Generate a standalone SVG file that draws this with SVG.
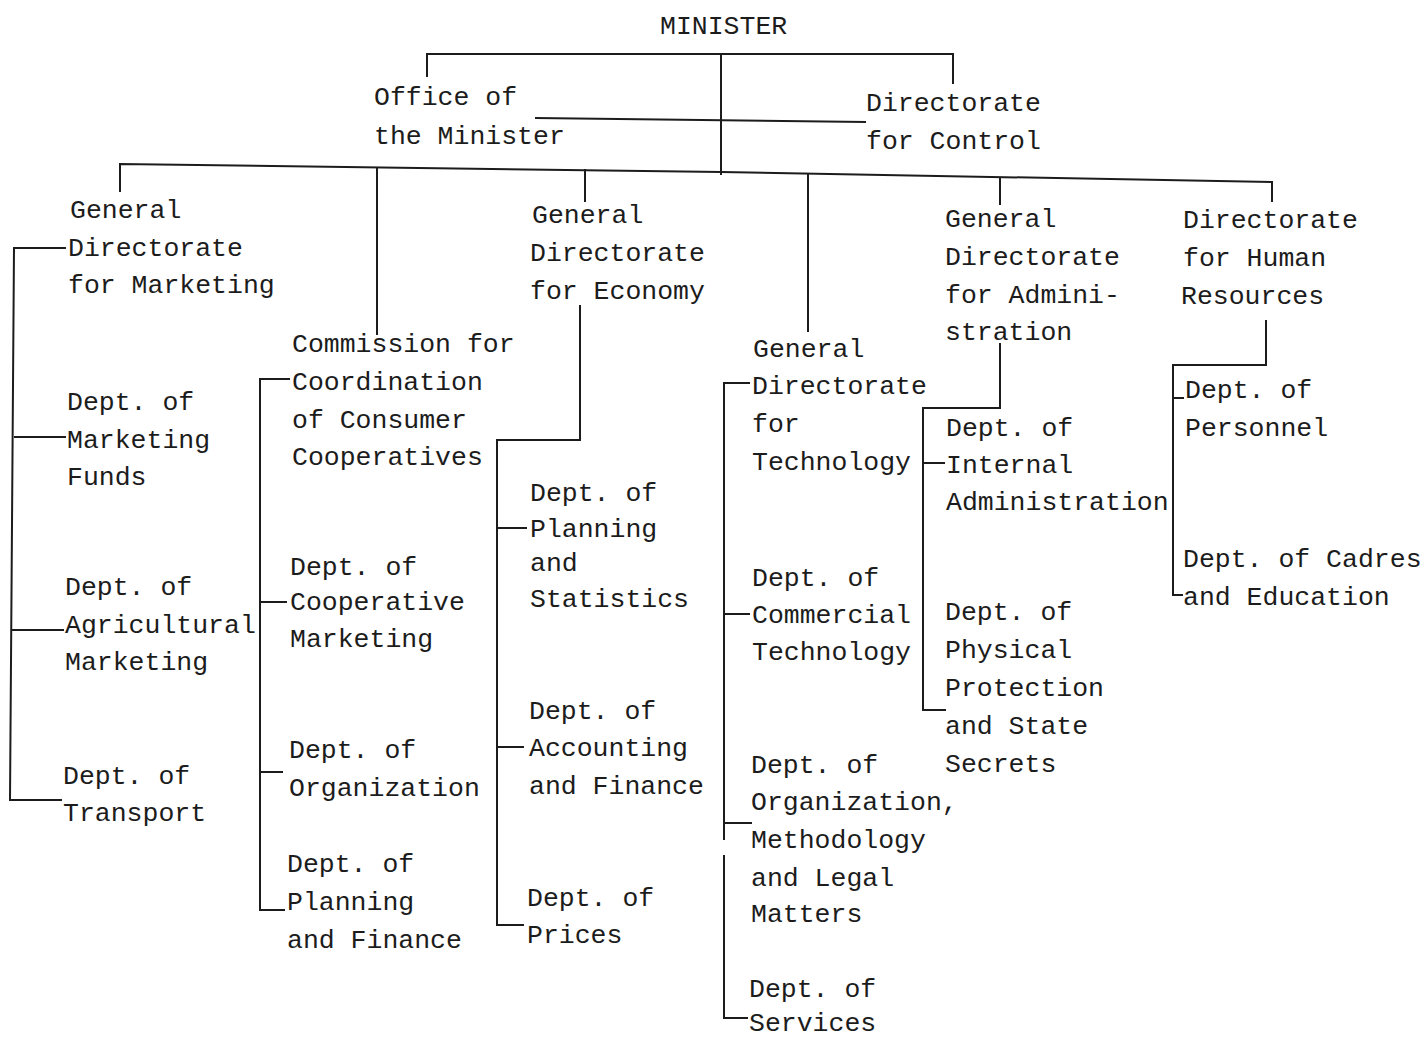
<svg xmlns="http://www.w3.org/2000/svg" width="1425" height="1037" viewBox="0 0 1425 1037">
  <style>
    text { font-family: "Liberation Mono", "DejaVu Sans Mono", monospace; font-size: 26.5px; fill: #1c1c1c; }
    .ln { fill: none; stroke: #1c1c1c; stroke-width: 2; stroke-linejoin: miter; }
  </style>
  <rect width="1425" height="1037" fill="#ffffff"/>

  <!-- connectors -->
  <g id="connectors" class="ln">
    <!-- minister level -->
    <path d="M427,77 V54 H953 V84"/>
    <path d="M721,54 V175"/>
    <path d="M535,118 L866,122"/>
    <!-- main bar to the directorates -->
    <path d="M120,192 V164 L721,172 L1272,182 V202"/>
    <path d="M377,167 V335"/>
    <path d="M585,169 V202"/>
    <path d="M808,174 V332"/>
    <path d="M1000,178 V205"/>
    <!-- marketing branch -->
    <path d="M66,248 H14 L10,800 H62"/>
    <path d="M14,437 H66"/>
    <path d="M12,630 H64"/>
    <!-- consumer cooperatives branch -->
    <path d="M290,379 H260 V910 H285"/>
    <path d="M260,602 H287"/>
    <path d="M260,772 H283"/>
    <!-- economy branch -->
    <path d="M580,305 V440 H497 V925 H524"/>
    <path d="M497,528 H527"/>
    <path d="M497,747 H524"/>
    <!-- technology branch -->
    <path d="M750,383 H724 V840"/>
    <path d="M724,855 V1018 H748"/>
    <path d="M724,614 H750"/>
    <path d="M724,823 H752"/>
    <!-- administration branch -->
    <path d="M1000,343 V408 H923 V710 H946"/>
    <path d="M923,463 H945"/>
    <!-- human resources branch -->
    <path d="M1266,320 V365 H1173 V595 H1183"/>
    <path d="M1173,398 H1184"/>
  </g>

  <g id="minister"><text x="660" y="34">MINISTER</text></g>

  <g id="office-minister">
    <text x="374" y="105">Office of</text>
    <text x="374" y="144">the Minister</text>
  </g>

  <g id="dir-control">
    <text x="866" y="111">Directorate</text>
    <text x="866" y="149">for Control</text>
  </g>

  <g id="gd-marketing">
    <text x="70" y="218">General</text>
    <text x="68" y="256">Directorate</text>
    <text x="68" y="293">for Marketing</text>
  </g>

  <g id="commission-coop">
    <text x="292" y="352">Commission for</text>
    <text x="292" y="390">Coordination</text>
    <text x="292" y="428">of Consumer</text>
    <text x="292" y="465">Cooperatives</text>
  </g>

  <g id="gd-economy">
    <text x="532" y="223">General</text>
    <text x="530" y="261">Directorate</text>
    <text x="530" y="299">for Economy</text>
  </g>

  <g id="gd-technology">
    <text x="753" y="357">General</text>
    <text x="752" y="394">Directorate</text>
    <text x="752" y="432">for</text>
    <text x="752" y="470">Technology</text>
  </g>

  <g id="gd-administration">
    <text x="945" y="227">General</text>
    <text x="945" y="265">Directorate</text>
    <text x="945" y="303">for Admini-</text>
    <text x="945" y="340">stration</text>
  </g>

  <g id="dir-human-resources">
    <text x="1183" y="228">Directorate</text>
    <text x="1183" y="266">for Human</text>
    <text x="1181" y="304">Resources</text>
  </g>

  <g id="dept-marketing-funds">
    <text x="67" y="410">Dept. of</text>
    <text x="67" y="448">Marketing</text>
    <text x="67" y="485">Funds</text>
  </g>

  <g id="dept-agricultural-marketing">
    <text x="65" y="595">Dept. of</text>
    <text x="65" y="633">Agricultural</text>
    <text x="65" y="670">Marketing</text>
  </g>

  <g id="dept-transport">
    <text x="63" y="784">Dept. of</text>
    <text x="63" y="821">Transport</text>
  </g>

  <g id="dept-cooperative-marketing">
    <text x="290" y="575">Dept. of</text>
    <text x="290" y="610">Cooperative</text>
    <text x="290" y="647">Marketing</text>
  </g>

  <g id="dept-organization">
    <text x="289" y="758">Dept. of</text>
    <text x="289" y="796">Organization</text>
  </g>

  <g id="dept-planning-finance">
    <text x="287" y="872">Dept. of</text>
    <text x="287" y="910">Planning</text>
    <text x="287" y="948">and Finance</text>
  </g>

  <g id="dept-planning-statistics">
    <text x="530" y="501">Dept. of</text>
    <text x="530" y="537">Planning</text>
    <text x="530" y="571">and</text>
    <text x="530" y="607">Statistics</text>
  </g>

  <g id="dept-accounting-finance">
    <text x="529" y="719">Dept. of</text>
    <text x="529" y="756">Accounting</text>
    <text x="529" y="794">and Finance</text>
  </g>

  <g id="dept-prices">
    <text x="527" y="906">Dept. of</text>
    <text x="527" y="943">Prices</text>
  </g>

  <g id="dept-commercial-technology">
    <text x="752" y="586">Dept. of</text>
    <text x="752" y="623">Commercial</text>
    <text x="752" y="660">Technology</text>
  </g>

  <g id="dept-organization-methodology">
    <text x="751" y="773">Dept. of</text>
    <text x="751" y="810">Organization,</text>
    <text x="751" y="848">Methodology</text>
    <text x="751" y="886">and Legal</text>
    <text x="751" y="922">Matters</text>
  </g>

  <g id="dept-services">
    <text x="749" y="997">Dept. of</text>
    <text x="749" y="1031">Services</text>
  </g>

  <g id="dept-internal-administration">
    <text x="946" y="436">Dept. of</text>
    <text x="946" y="473">Internal</text>
    <text x="946" y="510">Administration</text>
  </g>

  <g id="dept-physical-protection">
    <text x="945" y="620">Dept. of</text>
    <text x="945" y="658">Physical</text>
    <text x="945" y="696">Protection</text>
    <text x="945" y="734">and State</text>
    <text x="945" y="772">Secrets</text>
  </g>

  <g id="dept-personnel">
    <text x="1185" y="398">Dept. of</text>
    <text x="1185" y="436">Personnel</text>
  </g>

  <g id="dept-cadres-education">
    <text x="1183" y="567">Dept. of Cadres</text>
    <text x="1183" y="605">and Education</text>
  </g>
</svg>
